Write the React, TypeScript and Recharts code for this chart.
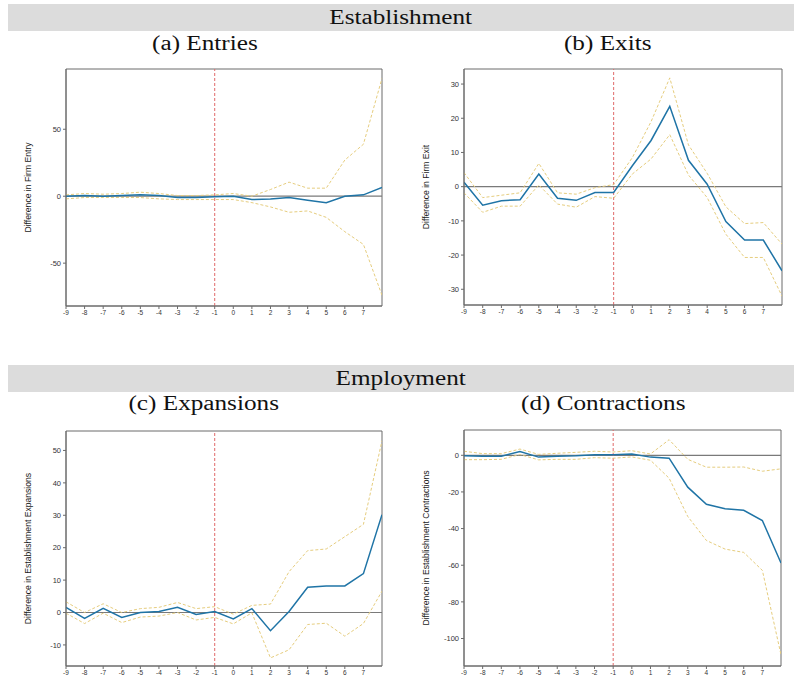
import { LineChart, Line, XAxis, YAxis, ReferenceLine, ReferenceArea } from 'recharts'

// Event time, -9 .. 8 (the last point sits on the right edge, no tick)
const periods = [-9, -8, -7, -6, -5, -4, -3, -2, -1, 0, 1, 2, 3, 4, 5, 6, 7, 8]
const xTicks = [-9, -8, -7, -6, -5, -4, -3, -2, -1, 0, 1, 2, 3, 4, 5, 6, 7]

// (a) Entries
const entriesEst = [0, 0.5, 0, 0.5, 1, 0.5, -1, -1, -0.5, 0, -2.5, -2, -1, -3, -4.8, 0, 1, 6.5]
const entriesHi = [1, 2, 1.5, 2, 3, 2, 0.5, 0.5, 1, 2, 0, 5, 10.5, 6, 6, 27, 38.8, 88]
const entriesLo = [-2, -1, -1, -1, -1, -2, -2.5, -2.5, -2.5, -2.5, -4.8, -8, -12, -11, -15.8, -26.5, -36, -74]

// (b) Exits
const exitsEst = [1.3, -5.4, -4.1, -3.8, 3.7, -3.4, -4.0, -1.7, -1.7, 6.1, 13.5, 23.5, 7.7, 0.7, -10.2, -15.6, -15.6, -24.6]
const exitsHi = [4.1, -3.2, -2.5, -1.8, 6.8, -1.8, -2.2, -0.3, 0.6, 8.5, 19, 31.8, 12.2, 3.9, -5.9, -10.8, -10.5, -16.8]
const exitsLo = [-1.8, -7.5, -5.7, -5.7, 0.5, -5.1, -6.0, -2.9, -3.4, 3.7, 8.1, 15.2, 3.4, -3.2, -13.9, -20.7, -20.7, -32]

// (c) Expansions
const expansionsEst = [1.6, -1.8, 1.3, -1.5, 0, 0.3, 1.6, -0.6, 0.3, -2.0, 1.2, -5.6, 0.3, 7.8, 8.2, 8.2, 12, 30.2]
const expansionsHi = [3.3, 0, 2.7, 0, 1.2, 1.6, 3.1, 1.2, 1.8, -0.5, 2.2, 2.6, 12.6, 19.1, 19.6, 23.4, 27.2, 53]
const expansionsLo = [-0.2, -3.4, -0.2, -3.1, -1.4, -1.1, 0, -2.3, -1.5, -3.5, -0.1, -14, -11.5, -3.7, -3.3, -7.3, -3.4, 6.6]

// (d) Contractions
const contractionsEst = [-0.2, -0.5, -0.5, 2, -1, -0.5, -0.3, 0.3, 0.3, 0.7, -1.0, -1.6, -17.4, -26.7, -29.2, -30, -35.6, -58.8]
const contractionsHi = [2.2, 0.9, 0.9, 3.4, 0.5, 1.1, 1.6, 2.2, 1.8, 2.5, 0.7, 8.5, -2.2, -6.5, -6.5, -6.4, -8.7, -7.4]
const contractionsLo = [-2.4, -2.4, -2.2, 0.4, -2.5, -2.2, -2.2, -1.3, -1.6, -0.9, -2.7, -12.5, -33.4, -46.5, -51.2, -53, -62.8, -108.9]

const BLUE = '#1f74a6'
const CI = '#e6cd7e'
const AXIS = '#6b6b6b'
const SERIF = '"Liberation Serif", "DejaVu Serif", serif'
const SANS = '"Liberation Sans", Arial, sans-serif'

const YW = 30
const XH = 14

function rows(est: number[], hi: number[], lo: number[]) {
  return periods.map((t, i) => ({ t, est: est[i], hi: hi[i], lo: lo[i] }))
}

interface TitleProps {
  px: number
  py: number
  title: string
}

function YTitle({ px, py, title }: TitleProps) {
  return (
    <text
      x={px}
      y={py}
      transform={`rotate(-90, ${px}, ${py})`}
      textAnchor="middle"
      dominantBaseline="central"
      fontFamily={SANS}
      fontSize={8.6}
      fill="#1a1a1a"
    >
      {title}
    </text>
  )
}

interface PanelProps {
  est: number[]
  hi: number[]
  lo: number[]
  yDomain: [number, number]
  yTicks: number[]
  yTitle: string
  frame: [number, number, number, number] // left, top, width, height
  box: [number, number, number, number] // plot x0, y0, x1, y1 (page coords)
}

function Panel({ est, hi, lo, yDomain, yTicks, yTitle, frame, box }: PanelProps) {
  const [fx, fy, fw, fh] = frame
  const [bx0, by0, bx1, by1] = box
  const margin = {
    left: bx0 - fx - YW,
    top: by0 - fy,
    right: fx + fw - bx1,
    bottom: fy + fh - by1 - XH,
  }
  const data = rows(est, hi, lo)
  return (
    <div style={{ position: 'absolute', left: fx, top: fy }}>
      <LineChart width={fw} height={fh} data={data} margin={margin}>
        <XAxis
          dataKey="t"
          type="number"
          domain={[-9, 8]}
          ticks={xTicks}
          allowDataOverflow
          height={XH}
          interval={0}
          tickSize={3}
          tickMargin={1}
          stroke={AXIS}
          tick={{ fontSize: 6.5, fill: '#333', fontFamily: SANS }}
        />
        <YAxis
          type="number"
          domain={yDomain}
          ticks={yTicks}
          allowDataOverflow
          width={YW}
          interval={0}
          tickSize={3}
          tickMargin={2}
          stroke={AXIS}
          tick={{ fontSize: 7.5, fill: '#333', fontFamily: SANS }}
          label={<YTitle px={bx0 - fx - 38} py={(by0 + by1) / 2 - fy} title={yTitle} />}
        />
        <ReferenceArea
          x1={-9}
          x2={8}
          y1={yDomain[0]}
          y2={yDomain[1]}
          fill="none"
          stroke={AXIS}
          strokeWidth={1}
          ifOverflow="visible"
        />
        <ReferenceLine y={0} stroke="#7a7a7a" strokeWidth={1.2} />
        <ReferenceLine x={-1} stroke="#e06a6a" strokeWidth={1} strokeDasharray="3 2" />
        <Line dataKey="hi" stroke={CI} strokeWidth={1} strokeDasharray="3 2" dot={false} isAnimationActive={false} />
        <Line dataKey="lo" stroke={CI} strokeWidth={1} strokeDasharray="3 2" dot={false} isAnimationActive={false} />
        <Line dataKey="est" stroke={BLUE} strokeWidth={1.5} dot={false} isAnimationActive={false} />
      </LineChart>
    </div>
  )
}

// Wide serif lettering for the section bars and panel captions
function Wide({ children }: { children: string }) {
  return <span style={{ display: 'inline-block', transform: 'scaleX(1.26)' }}>{children}</span>
}

function Header({ top, text }: { top: number; text: string }) {
  return (
    <div
      style={{
        position: 'absolute',
        left: 8,
        top,
        width: 786,
        height: 27,
        background: '#dcdcdc',
        fontFamily: SERIF,
        fontSize: 20,
        lineHeight: '27px',
        textAlign: 'center',
        color: '#111',
      }}
    >
      <Wide>{text}</Wide>
    </div>
  )
}

function SubTitle({ cx, top, text }: { cx: number; top: number; text: string }) {
  return (
    <div
      style={{
        position: 'absolute',
        left: cx - 150,
        top,
        width: 300,
        textAlign: 'center',
        fontFamily: SERIF,
        fontSize: 20,
        lineHeight: '24px',
        color: '#111',
      }}
    >
      <Wide>{text}</Wide>
    </div>
  )
}

export default function App() {
  return (
    <div style={{ position: 'absolute', left: 0, top: 0, width: 794, height: 683, background: '#fff', overflow: 'hidden' }}>
      <Header top={4} text="Establishment" />
      <SubTitle cx={205} top={31} text="(a) Entries" />
      <SubTitle cx={608} top={31} text="(b) Exits" />
      <Panel
        est={entriesEst}
        hi={entriesHi}
        lo={entriesLo}
        yDomain={[-82, 95]}
        yTicks={[-50, 0, 50]}
        yTitle="Difference in Firm Entry"
        frame={[0, 60, 397, 280]}
        box={[66, 69, 382, 306]}
      />
      <Panel
        est={exitsEst}
        hi={exitsHi}
        lo={exitsLo}
        yDomain={[-34.6, 34.4]}
        yTicks={[-30, -20, -10, 0, 10, 20, 30]}
        yTitle="Difference in Firm Exit"
        frame={[397, 60, 397, 280]}
        box={[464, 69, 782, 305]}
      />
      <Header top={365} text="Employment" />
      <SubTitle cx={204} top={391} text="(c) Expansions" />
      <SubTitle cx={603} top={391} text="(d) Contractions" />
      <Panel
        est={expansionsEst}
        hi={expansionsHi}
        lo={expansionsLo}
        yDomain={[-16.5, 56]}
        yTicks={[-10, 0, 10, 20, 30, 40, 50]}
        yTitle="Difference in Establishment Expansions"
        frame={[0, 420, 397, 263]}
        box={[66, 431, 382, 666]}
      />
      <Panel
        est={contractionsEst}
        hi={contractionsHi}
        lo={contractionsLo}
        yDomain={[-115, 13.8]}
        yTicks={[-100, -80, -60, -40, -20, 0]}
        yTitle="Difference in Establishment Contractions"
        frame={[397, 420, 397, 263]}
        box={[464, 430, 781, 666]}
      />
    </div>
  )
}
